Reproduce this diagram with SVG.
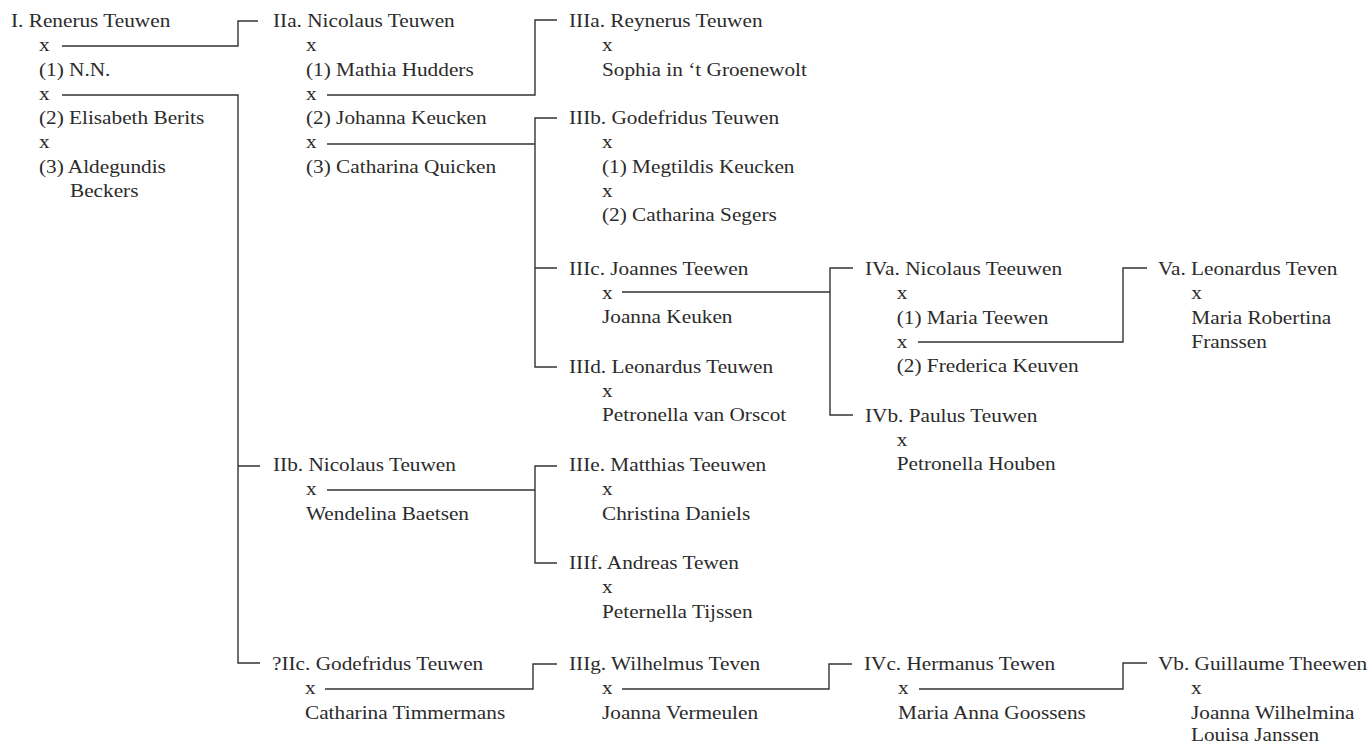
<svg xmlns="http://www.w3.org/2000/svg" width="1372" height="745" viewBox="0 0 1372 745">
<style>
text{font-family:"Liberation Serif","Times New Roman",serif;font-size:18.5px;fill:#2b2b2b}
.c path{fill:none;stroke:#333;stroke-width:1.4}
</style>
<rect width="1372" height="745" fill="#fff"/>
<g class="c" id="connectors">
<path d="M62,46 H238 V21 H258"/>
<path d="M62,95 H238 V663 H260 M238,466 H260"/>
<path d="M327,95 H535 V20 H557"/>
<path d="M327,144 H535 M557,118 H535 V367 H557 M535,268 H557"/>
<path d="M622,292 H830 M853,268 H830 V415 H853"/>
<path d="M918,342 H1123 V268 H1147"/>
<path d="M327,490 H535 M557,466 H535 V563 H557"/>
<path d="M325,689 H533 V664 H557"/>
<path d="M622,689 H829 V664 H852"/>
<path d="M919,689 H1123 V663 H1147"/>
</g>
<g id="nI" transform="translate(11,27) scale(1.15,1)">
<text x="0" y="0">I. Renerus Teuwen</text>
<text x="24.3" y="24.3">x</text>
<text x="24.3" y="48.6">(1) N.N.</text>
<text x="24.3" y="72.9">x</text>
<text x="24.3" y="97.2">(2) Elisabeth Berits</text>
<text x="24.3" y="121.5">x</text>
<text x="24.3" y="145.8">(3) Aldegundis</text>
<text x="51.3" y="170">Beckers</text>
</g>
<g id="nIIa" transform="translate(273,27) scale(1.15,1)">
<text x="0" y="0">IIa. Nicolaus Teuwen</text>
<text x="28.7" y="24.3">x</text>
<text x="28.7" y="48.6">(1) Mathia Hudders</text>
<text x="28.7" y="72.9">x</text>
<text x="28.7" y="97.2">(2) Johanna Keucken</text>
<text x="28.7" y="121.5">x</text>
<text x="28.7" y="145.8">(3) Catharina Quicken</text>
</g>
<g id="nIIIa" transform="translate(569,27) scale(1.15,1)">
<text x="0" y="0">IIIa. Reynerus Teuwen</text>
<text x="28.7" y="24.3">x</text>
<text x="28.7" y="48.6">Sophia in ‘t Groenewolt</text>
</g>
<g id="nIIIb" transform="translate(569,124) scale(1.15,1)">
<text x="0" y="0">IIIb. Godefridus Teuwen</text>
<text x="28.7" y="24.3">x</text>
<text x="28.7" y="48.6">(1) Megtildis Keucken</text>
<text x="28.7" y="72.9">x</text>
<text x="28.7" y="97.2">(2) Catharina Segers</text>
</g>
<g id="nIIIc" transform="translate(569,275) scale(1.15,1)">
<text x="0" y="0">IIIc. Joannes Teewen</text>
<text x="28.7" y="24">x</text>
<text x="28.7" y="48">Joanna Keuken</text>
</g>
<g id="nIIId" transform="translate(569,373) scale(1.15,1)">
<text x="0" y="0">IIId. Leonardus Teuwen</text>
<text x="28.7" y="24">x</text>
<text x="28.7" y="48">Petronella van Orscot</text>
</g>
<g id="nIVa" transform="translate(865,275) scale(1.15,1)">
<text x="0" y="0">IVa. Nicolaus Teeuwen</text>
<text x="27.6" y="24.3">x</text>
<text x="27.6" y="48.6">(1) Maria Teewen</text>
<text x="27.6" y="72.9">x</text>
<text x="27.6" y="97.2">(2) Frederica Keuven</text>
</g>
<g id="nIVb" transform="translate(865,421.5) scale(1.15,1)">
<text x="0" y="0">IVb. Paulus Teuwen</text>
<text x="27.6" y="24.3">x</text>
<text x="27.6" y="48.6">Petronella Houben</text>
</g>
<g id="nVa" transform="translate(1158,275) scale(1.15,1)">
<text x="0" y="0">Va. Leonardus Teven</text>
<text x="29" y="24.3">x</text>
<text x="29" y="48.6">Maria Robertina</text>
<text x="29" y="72.9">Franssen</text>
</g>
<g id="nIIb" transform="translate(273,471) scale(1.15,1)">
<text x="0" y="0">IIb. Nicolaus Teuwen</text>
<text x="28.7" y="24.3">x</text>
<text x="28.7" y="48.6">Wendelina Baetsen</text>
</g>
<g id="nIIIe" transform="translate(569,471) scale(1.15,1)">
<text x="0" y="0">IIIe. Matthias Teeuwen</text>
<text x="28.7" y="24.3">x</text>
<text x="28.7" y="48.6">Christina Daniels</text>
</g>
<g id="nIIIf" transform="translate(569,569) scale(1.15,1)">
<text x="0" y="0">IIIf. Andreas Tewen</text>
<text x="28.7" y="24.3">x</text>
<text x="28.7" y="48.6">Peternella Tijssen</text>
</g>
<g id="nIIc" transform="translate(272,670) scale(1.15,1)">
<text x="0" y="0">?IIc. Godefridus Teuwen</text>
<text x="28.7" y="24.3">x</text>
<text x="28.7" y="48.6">Catharina Timmermans</text>
</g>
<g id="nIIIg" transform="translate(569,670) scale(1.15,1)">
<text x="0" y="0">IIIg. Wilhelmus Teven</text>
<text x="28.7" y="24.3">x</text>
<text x="28.7" y="48.6">Joanna Vermeulen</text>
</g>
<g id="nIVc" transform="translate(864,670) scale(1.15,1)">
<text x="0" y="0">IVc. Hermanus Tewen</text>
<text x="29.6" y="24.3">x</text>
<text x="29.6" y="48.6">Maria Anna Goossens</text>
</g>
<g id="nVb" transform="translate(1158,670) scale(1.15,1)">
<text x="0" y="0">Vb. Guillaume Theewen</text>
<text x="28.7" y="24.3">x</text>
<text x="28.7" y="48.6">Joanna Wilhelmina</text>
<text x="28.7" y="71">Louisa Janssen</text>
</g>
</svg>
